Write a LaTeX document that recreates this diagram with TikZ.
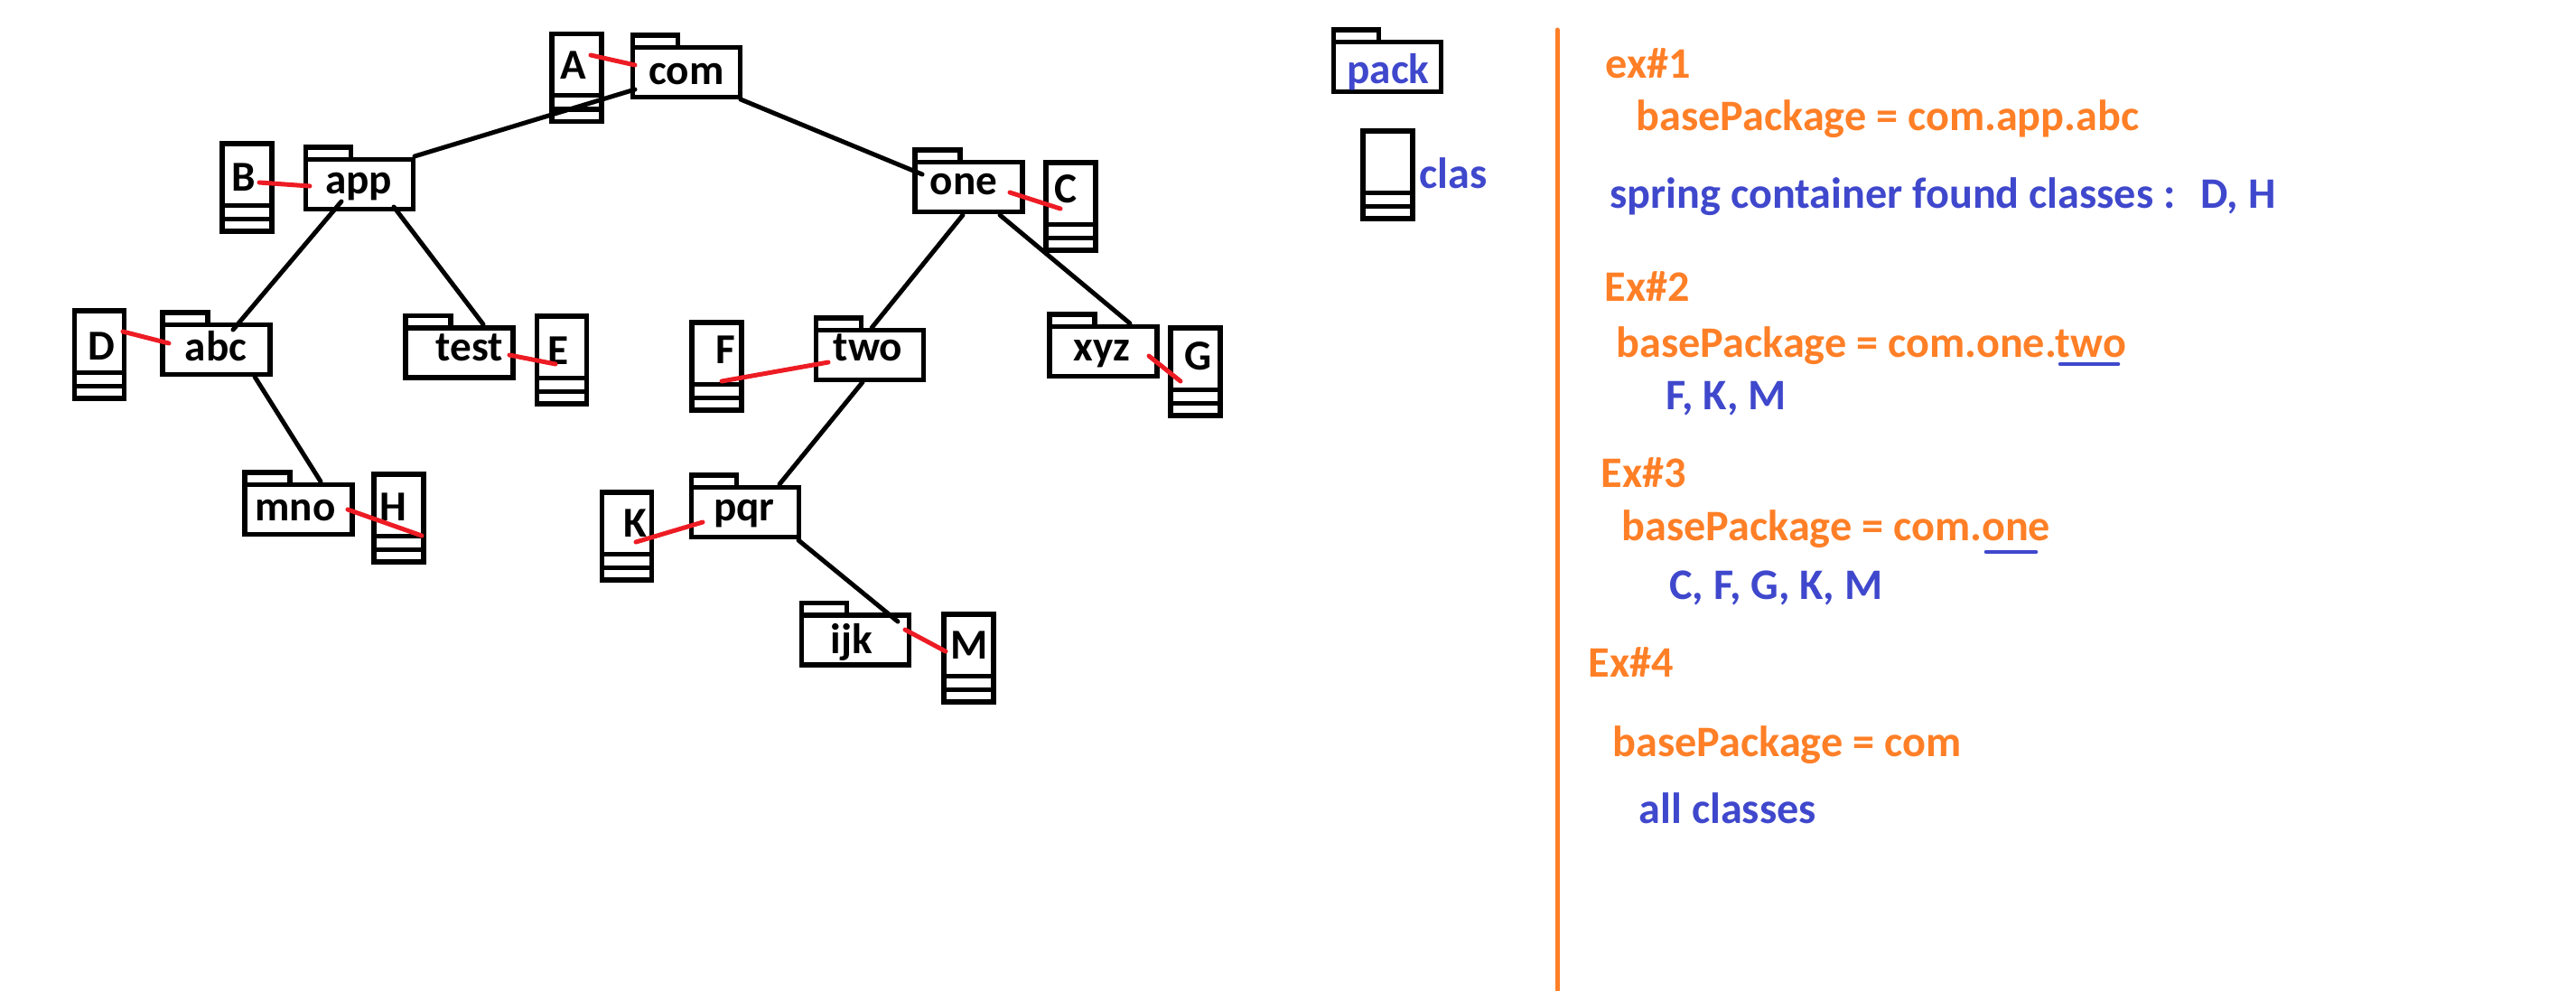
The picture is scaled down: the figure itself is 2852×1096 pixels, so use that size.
\documentclass[tikz,border=0pt]{standalone}
\usepackage{fontspec}
\setmainfont{Carlito}
\usepackage{xcolor}
\usetikzlibrary{positioning}

\definecolor{noteorange}{HTML}{FF7F27}
\definecolor{noteblue}{HTML}{3F48CC}
\definecolor{tiered}{HTML}{ED1C24}

\tikzset{
    pack/.style = {draw, line width = 1.3pt, inner sep = 0pt, outer sep = 0pt,
        minimum width = 29.75pt, minimum height = 13.75pt},
    packtab/.style = {draw, line width = 1.3pt, inner sep = 0pt, outer sep = 0pt,
        anchor = south west, minimum width = 12.5pt, minimum height = 3.4pt},
    clas/.style = {draw, line width = 1.3pt, inner sep = 0pt, outer sep = 0pt,
        minimum width = 13.75pt, minimum height = 24.25pt,
        path picture = {
            \draw[line width = 1.3pt]
                ([yshift = 7.2pt]path picture bounding box.south west) -- ([yshift = 7.2pt]path picture bounding box.south east)
                ([yshift = 3.4pt]path picture bounding box.south west) -- ([yshift = 3.4pt]path picture bounding box.south east);
        }},
    word/.style = {inner sep = 0pt, anchor = base, yshift = -0.4pt, font = \fontsize{11.8pt}{14pt}\selectfont\bfseries},
    note/.style = {inner sep = 0pt, anchor = base west, xshift = -0.3pt, yshift = -0.4pt, font = \fontsize{12.05pt}{14pt}\selectfont\bfseries},
    branch/.style = {line width = 1.25pt, line cap = round},
    tie/.style = {color = tiered, line width = 1.25pt, line cap = round}
}

\begin{document}
\begin{tikzpicture}[x = 0.25pt, y = -0.25pt]
    \useasboundingbox (0, 0) rectangle (2852, 1096);

    % packages
    \node[pack] (com) at (760, 80) {};
    \node[packtab] (comtab) at (com.north west) {};
    \node[word] (comname) at (760, 92) {com};
    \node[pack] (app) at (398, 204) {};
    \node[packtab] (apptab) at (app.north west) {};
    \node[word] (appname) at (397, 213) {app};
    \node[pack] (abc) at (239.5, 387) {};
    \node[packtab] (abctab) at (abc.north west) {};
    \node[word] (abcname) at (239, 398) {abc};
    \node[pack] (test) at (508.5, 390.5) {};
    \node[packtab] (testtab) at (test.north west) {};
    \node[word] (testname) at (520, 398) {test};
    \node[pack] (mno) at (330.5, 564) {};
    \node[packtab] (mnotab) at (mno.north west) {};
    \node[word] (mnoname) at (327, 575) {mno};
    \node[pack] (one) at (1072.5, 207) {};
    \node[packtab] (onetab) at (one.north west) {};
    \node[word] (onename) at (1067, 214) {one};
    \node[pack] (two) at (963, 393) {};
    \node[packtab] (twotab) at (two.north west) {};
    \node[word] (twoname) at (961, 398) {two};
    \node[pack] (xyz) at (1221.5, 389) {};
    \node[packtab] (xyztab) at (xyz.north west) {};
    \node[word] (xyzname) at (1220, 398) {xyz};
    \node[pack] (pqr) at (825, 567) {};
    \node[packtab] (pqrtab) at (pqr.north west) {};
    \node[word] (pqrname) at (824, 575) {pqr};
    \node[pack] (ijk) at (947, 708.5) {};
    \node[packtab] (ijktab) at (ijk.north west) {};
    \node[word] (ijkname) at (943, 722) {ijk};

    % classes
    \node[clas] (clsA) at (638.5, 86) {};
    \node[word] (clsAname) at (635, 86) {A};
    \node[clas] (clsB) at (273.5, 207.5) {};
    \node[word] (clsBname) at (270, 210) {B};
    \node[clas] (clsC) at (1185.5, 228.5) {};
    \node[word] (clsCname) at (1180, 223) {C};
    \node[clas] (clsD) at (110, 392.5) {};
    \node[word] (clsDname) at (112, 397) {D};
    \node[clas] (clsE) at (622, 398.5) {};
    \node[word] (clsEname) at (618, 402) {E};
    \node[clas] (clsF) at (793.5, 405.5) {};
    \node[word] (clsFname) at (803, 401) {F};
    \node[clas] (clsG) at (1323.5, 411.5) {};
    \node[word] (clsGname) at (1327, 408) {G};
    \node[clas] (clsH) at (441.5, 573.5) {};
    \node[word] (clsHname) at (435, 575) {H};
    \node[clas] (clsK) at (694, 593.5) {};
    \node[word] (clsKname) at (703, 593) {K};
    \node[clas] (clsM) at (1072.5, 728.5) {};
    \node[word] (clsMname) at (1073, 728) {M};

    % tree
    \draw[branch] ([shift = {(-57, 19)}]com.center) -- ([shift = {(61, -31)}]app.center);
    \draw[branch] ([shift = {(60, 30)}]com.center) -- ([shift = {(-51.5, -14)}]one.center);
    \draw[branch] ([shift = {(-20, 19)}]app.center) -- ([shift = {(18.5, -22)}]abc.center);
    \draw[branch] ([shift = {(38, 25)}]app.center) -- ([shift = {(26.5, -31.5)}]test.center);
    \draw[branch] ([shift = {(42.5, 30)}]abc.center) -- ([shift = {(24.5, -31)}]mno.center);
    \draw[branch] ([shift = {(-6.5, 31)}]one.center) -- ([shift = {(2, -30)}]two.center);
    \draw[branch] ([shift = {(34.5, 31)}]one.center) -- ([shift = {(29.5, -31)}]xyz.center);
    \draw[branch] ([shift = {(-8, 30)}]two.center) -- ([shift = {(38, -31)}]pqr.center);
    \draw[branch] ([shift = {(59, 31)}]pqr.center) -- ([shift = {(47, -20.5)}]ijk.center);

    % red ties
    \draw[tie] ([shift = {(15.5, -25)}]clsA.center) -- ([shift = {(-57, -8)}]com.center);
    \draw[tie] ([shift = {(13.5, -5.5)}]clsB.center) -- ([shift = {(-55, 2)}]app.center);
    \draw[tie] ([shift = {(26, -25.5)}]clsD.center) -- ([shift = {(-52.5, -7)}]abc.center);
    \draw[tie] ([shift = {(55.5, 2.5)}]test.center) -- ([shift = {(-7, 4.5)}]clsE.center);
    \draw[tie] ([shift = {(5.5, 16.5)}]clsF.center) -- ([shift = {(-46, 8)}]two.center);
    \draw[tie] ([shift = {(45.5, 6)}]one.center) -- ([shift = {(-11.5, 2.5)}]clsC.center);
    \draw[tie] ([shift = {(50.5, 5)}]xyz.center) -- ([shift = {(-16.5, 10.5)}]clsG.center);
    \draw[tie] ([shift = {(54.5, 0)}]mno.center) -- ([shift = {(25.5, 19.5)}]clsH.center);
    \draw[tie] ([shift = {(10, 6.5)}]clsK.center) -- ([shift = {(-47, 11)}]pqr.center);
    \draw[tie] ([shift = {(55, -11.5)}]ijk.center) -- ([shift = {(-25.5, -7.5)}]clsM.center);

    % legend
    \node[pack] (legendpack) at (1536, 74) {};
    \node[packtab] (legendtab) at (legendpack.north west) {};
    \node[word, text = noteblue] (legendpackname) at (1537, 91) {pack};
    \node[clas] (legendclas) at (1536.5, 193.5) {};
    \node[note, text = noteblue] (legendclasname) at (1572, 207) {clas};

    % notes
    \draw[color = noteorange, line width = 1.25pt, line cap = round] (1724, 33) -- (1724, 1096);
    \node[note, text = noteorange] (exone) at (1778, 85) {ex\#1};
    \node[note, text = noteorange] (baseone) at (1812, 143) {basePackage = com.app.abc};
    \node[note, text = noteblue] (foundone) at (1783, 229) {spring container found classes :\hspace{7pt}D, H};
    \node[note, text = noteorange] (extwo) at (1777, 332) {Ex\#2};
    \node[note, text = noteorange] (basetwo) at (1790, 394) {basePackage = com.one.two};
    \draw[color = noteblue, line width = 1.15pt, line cap = round] (2281, 403) -- (2345, 403);
    \node[note, text = noteblue] (foundtwo) at (1845, 452) {F, K, M};
    \node[note, text = noteorange] (exthree) at (1773, 538) {Ex\#3};
    \node[note, text = noteorange] (basethree) at (1796, 597) {basePackage = com.one};
    \draw[color = noteblue, line width = 1.15pt, line cap = round] (2199, 611) -- (2254, 611);
    \node[note, text = noteblue] (foundthree) at (1849, 661.5) {C, F, G, K, M};
    \node[note, text = noteorange] (exfour) at (1759, 748) {Ex\#4};
    \node[note, text = noteorange] (basefour) at (1786, 836) {basePackage = com};
    \node[note, text = noteblue] (foundfour) at (1815, 910) {all classes};
\end{tikzpicture}
\end{document}
